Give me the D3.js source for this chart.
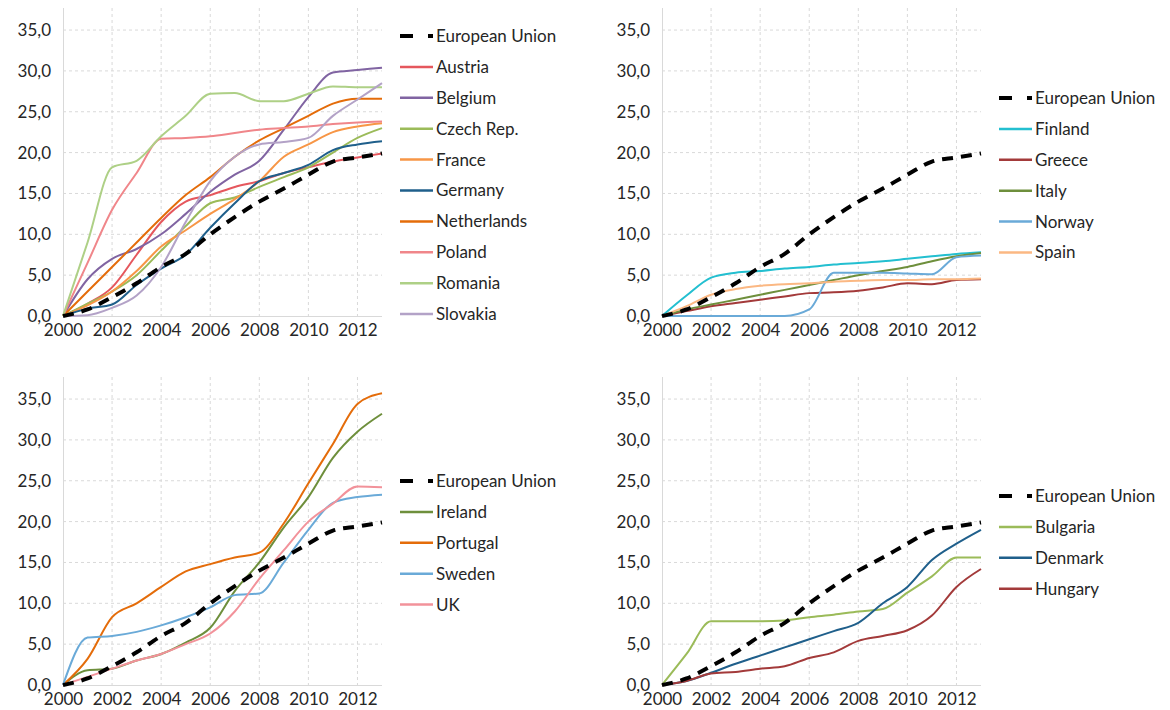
<!DOCTYPE html>
<html>
<head>
<meta charset="utf-8">
<script src="https://cdn.jsdelivr.net/npm/d3@7"></script>
<style>
  body { margin: 0; background: #fff; }
  svg text { font-family: Lato, "Open Sans", sans-serif; fill: #262626; }
  .grid line { stroke: #d9d9d9; stroke-dasharray: 3,3; }
  .axis path, .axis line { stroke: #d9d9d9; }
</style>
</head>
<body>
<div id="chart"></div>
<script>
const years = d3.range(2000, 2014);
const yTicks = [0, 5, 10, 15, 20, 25, 30, 35];
const xTicks = [2000, 2002, 2004, 2006, 2008, 2010, 2012];

const euValues = [0, 0.8, 2.3, 4.0, 6.0, 7.6, 10.0, 12.1, 14.0, 15.6, 17.3, 18.9, 19.4, 19.9];

// panel 1
const austria     = [0, 1.5, 3.5, 7.5, 11.5, 14.0, 14.8, 15.8, 16.5, 17.5, 18.2, 18.9, 19.4, 19.9];
const belgium     = [0, 4.5, 7.0, 8.2, 10.0, 12.5, 15.2, 17.3, 19.0, 22.8, 26.8, 29.8, 30.1, 30.4];
const czechRep    = [0, 1.5, 3.0, 5.0, 8.0, 11.0, 13.8, 14.5, 15.8, 17.0, 18.2, 20.0, 21.8, 23.0];
const france      = [0, 1.3, 3.0, 5.5, 8.5, 10.5, 12.5, 14.3, 16.5, 19.5, 21.0, 22.5, 23.2, 23.6];
const germany     = [0, 0.9, 1.4, 3.8, 5.8, 7.5, 10.8, 13.8, 16.5, 17.5, 18.5, 20.3, 21.0, 21.4];
const netherlands = [0, 3.0, 6.0, 9.0, 12.0, 14.8, 17.0, 19.5, 21.5, 23.0, 24.5, 26.0, 26.6, 26.6];
const poland      = [0, 6.5, 13.0, 17.5, 21.7, 21.8, 22.0, 22.4, 22.8, 23.0, 23.2, 23.5, 23.7, 23.8];
const romania     = [0, 9.0, 18.2, 19.0, 22.0, 24.5, 27.2, 27.3, 26.3, 26.3, 27.2, 28.1, 28.0, 28.0];
const slovakia    = [0, 0.1, 1.0, 2.5, 6.0, 11.5, 16.5, 19.5, 21.0, 21.3, 21.8, 24.5, 26.5, 28.5];

// panel 2
const finland = [0, 2.5, 4.7, 5.3, 5.5, 5.8, 6.0, 6.3, 6.5, 6.7, 7.0, 7.3, 7.6, 7.8];
const greece  = [0, 0.6, 1.2, 1.6, 2.0, 2.4, 2.8, 2.9, 3.1, 3.5, 4.0, 3.9, 4.4, 4.5];
const italy   = [0, 0.8, 1.4, 2.0, 2.6, 3.2, 3.8, 4.4, 5.0, 5.5, 6.0, 6.7, 7.3, 7.7];
const norway  = [0, 0, 0, 0, 0, 0, 0.8, 5.3, 5.3, 5.3, 5.2, 5.1, 7.2, 7.4];
const spain   = [0, 1.2, 2.6, 3.3, 3.7, 3.9, 4.0, 4.2, 4.3, 4.4, 4.4, 4.5, 4.5, 4.6];

// panel 3
const ireland  = [0, 1.8, 2.0, 3.0, 3.8, 5.2, 7.0, 11.5, 15.0, 19.3, 23.0, 27.8, 31.0, 33.2];
const portugal = [0, 3.2, 8.3, 10.0, 12.0, 13.9, 14.8, 15.6, 16.2, 19.8, 24.7, 29.5, 34.4, 35.7];
const sweden   = [0, 5.8, 6.0, 6.5, 7.3, 8.3, 9.5, 11.0, 11.2, 15.0, 19.0, 22.3, 23.0, 23.3];
const uk       = [0, 1.0, 2.0, 3.0, 3.8, 5.0, 6.3, 9.0, 13.0, 16.5, 20.0, 22.2, 24.3, 24.2];

// panel 4
const bulgaria = [0, 3.8, 7.8, 7.8, 7.8, 7.9, 8.3, 8.6, 9.0, 9.3, 11.3, 13.3, 15.6, 15.6];
const denmark  = [0, 0.5, 1.5, 2.6, 3.6, 4.6, 5.6, 6.6, 7.6, 10.0, 12.0, 15.3, 17.3, 19.0];
const hungary  = [0, 0.5, 1.4, 1.6, 2.0, 2.3, 3.3, 4.0, 5.4, 6.0, 6.7, 8.5, 12.0, 14.2];

const panels = [
  { left: 63, top: 8, legendTop: 36, series: [
    ["Austria", austria, "#e5575d"],
    ["Belgium", belgium, "#8064a2"],
    ["Czech Rep.", czechRep, "#9bbb59"],
    ["France", france, "#f79646"],
    ["Germany", germany, "#1f5f8b"],
    ["Netherlands", netherlands, "#e46c0a"],
    ["Poland", poland, "#f0868a"],
    ["Romania", romania, "#aed086"],
    ["Slovakia", slovakia, "#b3a2c7"]
  ]},
  { left: 662, top: 8, legendTop: 98, series: [
    ["Finland", finland, "#23bfd0"],
    ["Greece", greece, "#a33a3a"],
    ["Italy", italy, "#6e8f3c"],
    ["Norway", norway, "#6aaad8"],
    ["Spain", spain, "#fbb883"]
  ]},
  { left: 63, top: 377, legendTop: 481, series: [
    ["Ireland", ireland, "#6e8f3c"],
    ["Portugal", portugal, "#e46c0a"],
    ["Sweden", sweden, "#6aaad8"],
    ["UK", uk, "#f2929a"]
  ]},
  { left: 662, top: 377, legendTop: 496, series: [
    ["Bulgaria", bulgaria, "#9bbb59"],
    ["Denmark", denmark, "#1f5f8b"],
    ["Hungary", hungary, "#a33a3a"]
  ]}
];

const width = 319, height = 308;
const fmt = d3.formatLocale({ decimal: ",", thousands: ".", grouping: [3], currency: ["", "€"] }).format(".1f");

const svg = d3.select("#chart").append("svg")
    .attr("width", 1170)
    .attr("height", 710);

panels.forEach(p => drawPanel(p));

function drawPanel(p) {
  const x = d3.scaleLinear().domain([2000, 2013]).range([0, width]);
  const y = d3.scaleLinear().domain([0, 37.7]).range([height, 0]);

  const g = svg.append("g").attr("transform", "translate(" + p.left + "," + p.top + ")");

  // gridlines
  const grid = g.append("g").attr("class", "grid");
  grid.selectAll(".hg").data(yTicks.slice(1)).enter().append("line")
      .attr("x1", 0).attr("x2", width)
      .attr("y1", d => y(d)).attr("y2", d => y(d));
  grid.selectAll(".vg").data(xTicks.slice(1)).enter().append("line")
      .attr("y1", 0).attr("y2", height)
      .attr("x1", d => x(d)).attr("x2", d => x(d));

  // axes
  const xAxis = g.append("g").attr("class", "axis")
      .attr("transform", "translate(0," + height + ")")
      .call(d3.axisBottom(x).tickValues(xTicks).tickFormat(d3.format("d")).tickSize(0).tickPadding(8));
  xAxis.select(".domain").attr("d", "M0,0.5H" + width);
  xAxis.selectAll("text").style("font-size", "17px");

  const yAxis = g.append("g").attr("class", "axis")
      .call(d3.axisLeft(y).tickValues(yTicks).tickFormat(fmt).tickSize(0).tickPadding(12));
  yAxis.select(".domain").attr("d", "M0.5,0V" + height);
  yAxis.selectAll("text").style("font-size", "17px");

  const line = d3.line()
      .x((d, i) => x(years[i]))
      .y(d => y(d))
      .curve(d3.curveMonotoneX);

  g.selectAll(".country").data(p.series).enter().append("path")
      .attr("class", "country")
      .attr("fill", "none")
      .attr("stroke", d => d[2])
      .attr("stroke-width", 2)
      .attr("d", d => line(d[1]));

  g.append("path")
      .attr("fill", "none")
      .attr("stroke", "#000")
      .attr("stroke-width", 4)
      .attr("stroke-dasharray", "11,8")
      .attr("d", line(euValues));

  // legend
  const legendX = p.left + width + 18;
  const entries = [["European Union", null, "#000"]].concat(p.series);
  const lg = svg.append("g").attr("transform", "translate(" + legendX + "," + p.legendTop + ")");
  const item = lg.selectAll(".item").data(entries).enter().append("g")
      .attr("transform", (d, i) => "translate(0," + (i * 30.9) + ")");
  item.append("line")
      .attr("x1", 0).attr("x2", 33)
      .attr("stroke", d => d[2])
      .attr("stroke-width", (d, i) => i === 0 ? 4 : 2.5)
      .attr("stroke-dasharray", (d, i) => i === 0 ? "13,15" : null);
  item.append("text")
      .attr("x", 36)
      .attr("dy", "0.35em")
      .style("font-size", "17px")
      .text(d => d[0]);
}
</script>
</body>
</html>
